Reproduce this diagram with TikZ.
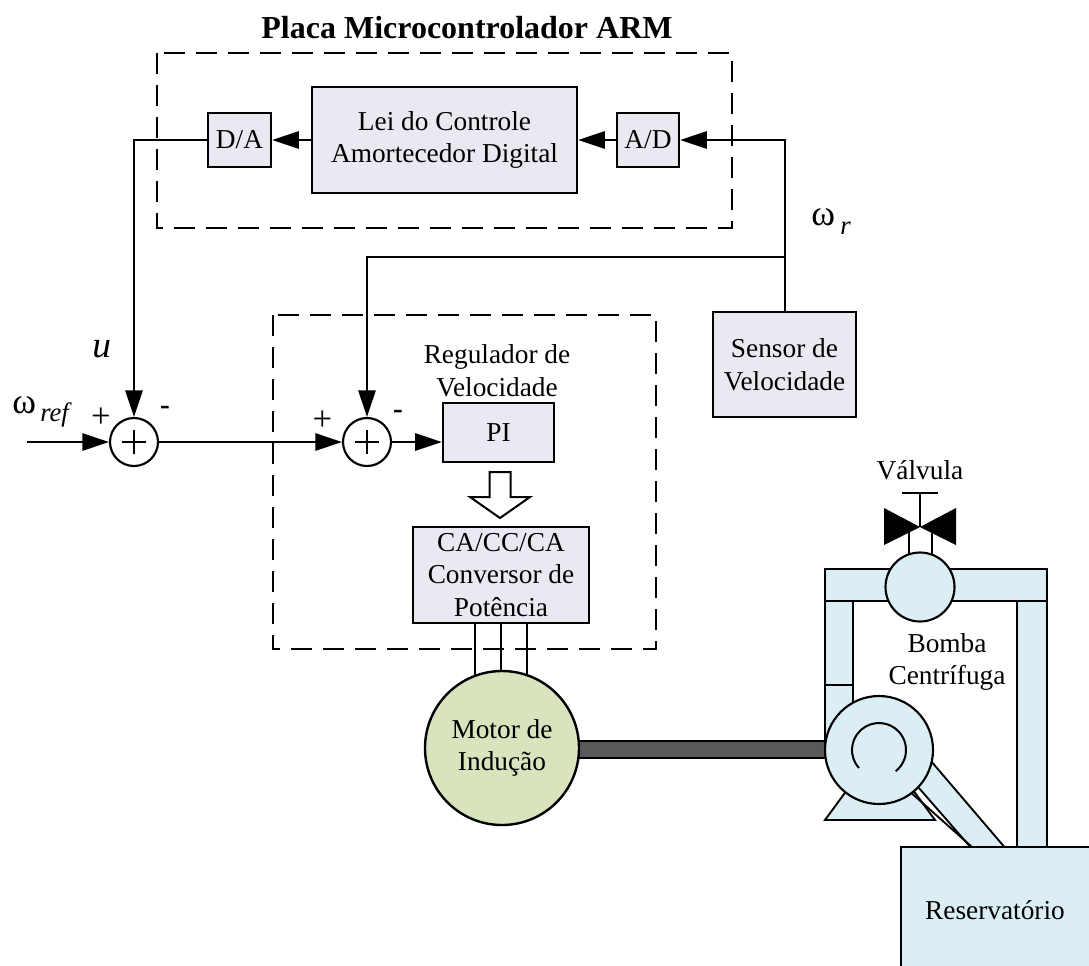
\documentclass[tikz,border=0pt]{standalone}
\usepackage{fontspec}
\setmainfont{Liberation Serif}
\usetikzlibrary{arrows.meta}
\definecolor{blockfill}{RGB}{235,232,242}
\definecolor{motorfill}{RGB}{215,228,189}
\definecolor{pipefill}{RGB}{219,238,244}
\definecolor{shaftfill}{RGB}{89,89,89}
\newcommand{\lbfont}{\fontsize{20.5}{24.5}\selectfont}

\begin{document}
\begin{tikzpicture}[x=0.75pt,y=-0.75pt,
  block/.style={draw, line width=1.8pt, fill=blockfill, inner sep=0pt, align=center, font=\lbfont},
  sumnode/.style={draw, circle, line width=1.6pt, fill=white, minimum size=36pt, inner sep=0pt},
  conn/.style={line width=1.5pt},
  arr/.style={conn, -{Triangle[length=20pt,width=13pt]}},
  frame/.style={line width=2pt, dash pattern=on 16pt off 8pt},
  pipe/.style={draw, line width=1.4pt, fill=pipefill},
  txt/.style={inner sep=0pt, align=center, font=\lbfont},
  sign/.style={inner sep=0pt, font=\fontsize{26}{26}\selectfont},
  minus/.style={inner sep=0pt, font=\bfseries\fontsize{22}{22}\selectfont},
]
\useasboundingbox (0,0) rectangle (1089,965);
\clip (0,0) rectangle (1089,965);

% dashed frames: microcontroller board and drive
\draw[frame] (157,53) rectangle (732,228);
\draw[frame] (273,315) rectangle (656,649);

\node[font=\bfseries\fontsize{24}{28}\selectfont, inner sep=0pt] (title) at (467,28) {Placa Microcontrolador ARM};

% blocks
\node[block, minimum width=47.25pt, minimum height=40.5pt] (da) at (239.5,140) {D/A};
\node[block, minimum width=198.75pt, minimum height=79.5pt] (lei) at (444.5,140) {Lei do Controle\\Amortecedor Digital};
\node[block, minimum width=46.5pt, minimum height=40.5pt] (ad) at (648,140) {A/D};
\node[block, minimum width=107.25pt, minimum height=78.75pt] (sensor) at (784.5,364.5) {Sensor de\\Velocidade};
\node[block, minimum width=83.25pt, minimum height=44.25pt] (pi) at (498.5,432.5) {PI};
\node[block, minimum width=132pt, minimum height=72pt] (conv) at (501,575) {CA/CC/CA\\Conversor de\\Potência};

% summing junctions
\node[sumnode] (s1) at (134,442) {};
\node[sumnode] (s2) at (367,442) {};
\foreach \s in {s1,s2}{
  \draw[line width=1.3pt] (\s.center) +(-12,0) -- +(12,0) (\s.center) +(0,-12) -- +(0,12);
}

% signal connectors
\draw[arr] (ad) -- (lei);
\draw[arr] (lei) -- (da);
\draw[arr] (da.west) -| (s1.north);
\draw[arr] (sensor.north) |- (ad.east);
\coordinate (tapy) at (0,257);
\coordinate (tap) at (sensor.north |- tapy);
\draw[arr] (tap) -| (s2.north);
\coordinate (win) at (27,442);
\draw[arr] (win) -- (s1.west);
\draw[arr] (s1.east) -- (s2.west);
\draw[arr] (s2.east) -- (s2.east -| pi.west);

% hollow arrow from PI to converter
\draw[line width=1.5pt, fill=white] (489.5,472) -- (510.5,472) -- (510.5,497) -- (530,497)
  -- (500,518) -- (470,497) -- (489.5,497) -- cycle;

% labels
\node[txt] (reg) at (497,371) {Regulador de\\Velocidade};
\node[inner sep=0pt, anchor=base west, font=\fontsize{28}{28}\selectfont\itshape] (u) at (92,357) {u};
\node[inner sep=0pt, anchor=base west, font=\fontsize{27}{27}\selectfont] (wref) at (12,413) {ω};
\node[inner sep=0pt, anchor=base west, font=\fontsize{20}{20}\selectfont\itshape] (wrefsub) at (40,421) {ref};
\node[inner sep=0pt, anchor=base west, font=\fontsize{27}{27}\selectfont] (wr) at (811,225) {ω};
\node[inner sep=0pt, anchor=base west, font=\fontsize{20}{20}\selectfont\itshape] (wrsub) at (840,234) {r};
\node[sign] (p1) at (101,417.5) {+};
\node[minus] (m1) at (165,410.5) {-};
\node[sign] (p2) at (322.5,420.5) {+};
\node[minus] (m2) at (398,414) {-};

% three-phase wires, shaft and motor
\foreach \dx in {-26,0,26}{
  \draw[conn] (conv.south) ++(\dx,0) -- ++(0,80);
}
\draw[fill=shaftfill, line width=0.8pt] (575,741) rectangle (830,758);
\node[draw, circle, fill=motorfill, line width=1.8pt, minimum size=115.5pt, inner sep=0pt,
  align=center, font=\lbfont] (motor) at (502,748) {Motor de\\Indução};

% piping
\draw[pipe] (825,569) rectangle (1047,601);
\draw[pipe] (1017,601) rectangle (1047,850);
\draw[pipe] (825,601) rectangle (853,685);
\draw[pipe] (825,685) rectangle (853,750);
\draw[pipe] (825,820) -- (935,820) -- (880,745) -- cycle;
\draw[pipe] (898,764) -- (913,740) -- (1007,850) -- (973,850) -- cycle;
\draw[line width=1.4pt] (911.7,793.3) -- (972,847);

% centrifugal pump
\node[draw, circle, fill=pipefill, line width=1.6pt, minimum size=81pt, inner sep=0pt] (pump) at (879,750) {};
\draw[line width=1.5pt] (pump.center) ++(138:27) arc[start angle=138, end angle=412, radius=27];

% reservoir
\draw[pipe] (901,847) rectangle (1100,980);
\node[txt] (res) at (995,910) {Reservatório};

% valve
\draw[conn] (909,530) -- (909,560);
\draw[conn] (932,530) -- (932,560);
\fill (884,508) -- (884,545) -- (920,527) -- cycle;
\fill (956,508) -- (956,545) -- (920,527) -- cycle;
\draw[conn] (920,493) -- (920,527);
\draw[conn] (902,493) -- (938,493);
\node[draw, circle, fill=pipefill, line width=1.6pt, minimum size=51.75pt, inner sep=0pt] (valve) at (920,587) {};
\node[txt] (valvlbl) at (920,470) {Válvula};
\node[txt] (pumplbl) at (947,662) {Bomba\\Centrífuga};
\end{tikzpicture}
\end{document}
